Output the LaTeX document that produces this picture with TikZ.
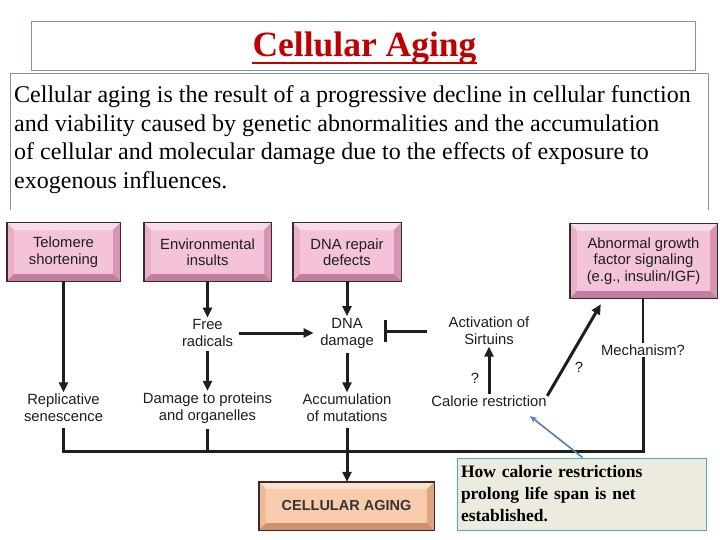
\documentclass[tikz,border=0pt]{standalone}
\usepackage{fontspec}
\setmainfont{Liberation Serif}
\newfontfamily\diagfont{Liberation Sans}
\usetikzlibrary{arrows.meta,calc}
\definecolor{titlered}{HTML}{C00000}
\definecolor{frameblue}{HTML}{7F93AA}
\definecolor{pinkface}{HTML}{F4C3D9}
\definecolor{pinktop}{HTML}{F9DCE9}
\definecolor{pinkleft}{HTML}{E8B0C9}
\definecolor{pinkright}{HTML}{D595B3}
\definecolor{pinkbottom}{HTML}{C27E9E}
\definecolor{peachface}{HTML}{F8CBAD}
\definecolor{peachtop}{HTML}{FCE1CE}
\definecolor{peachleft}{HTML}{EFBA98}
\definecolor{peachright}{HTML}{E0A47F}
\definecolor{peachbottom}{HTML}{D0906C}
\definecolor{boxedge}{HTML}{3A2A30}
\definecolor{notefill}{HTML}{EDEBE0}
\definecolor{noteborder}{HTML}{4BACC6}
\definecolor{calloutcol}{HTML}{4F7FB8}
\definecolor{ink}{HTML}{1E1E1E}
\newcommand{\bevelbox}[6]{%
  \fill[#2] (#1.north west) -- (#1.north east) -- ($(#1.north east)+(-#6,#6)$) -- ($(#1.north west)+(#6,#6)$) -- cycle;
  \fill[#3] (#1.north west) -- ($(#1.north west)+(#6,#6)$) -- ($(#1.south west)+(#6,-#6)$) -- (#1.south west) -- cycle;
  \fill[#4] (#1.north east) -- ($(#1.north east)+(-#6,#6)$) -- ($(#1.south east)+(-#6,-#6)$) -- (#1.south east) -- cycle;
  \fill[#5] (#1.south west) -- (#1.south east) -- ($(#1.south east)+(-#6,-#6)$) -- ($(#1.south west)+(#6,-#6)$) -- cycle;
  \draw[boxedge, line width=1.4pt] (#1.north west) rectangle (#1.south east);
}
\begin{document}
\begin{tikzpicture}[x=1pt,y=-1pt,
  diagtext/.style={align=center, text=ink, inner sep=1.5pt, font=\diagfont\fontsize{14.8}{17}\selectfont},
  pinkbox/.style={diagtext, fill=pinkface, inner sep=0pt, font=\diagfont\fontsize{14.8}{16.5}\selectfont},
  peachbox/.style={fill=peachface, inner sep=0pt, text=ink!90, font=\diagfont\bfseries\fontsize{14.5}{16}\selectfont},
  bodyline/.style={anchor=base west, inner sep=0pt, font=\fontsize{24}{28}\selectfont},
  arrowline/.style={draw=ink, line width=3pt, -{Triangle[length=10pt,width=9pt]}},
  plainline/.style={draw=ink, line width=3pt},
  notebox/.style={fill=notefill, draw=noteborder, line width=1pt, align=left, inner sep=4pt,
    font=\bfseries\fontsize{17.5}{22}\selectfont, text=black},
  callout/.style={draw=calloutcol, line width=1.6pt, -{Stealth[length=7pt,width=6pt]}}]
\useasboundingbox (0,0) rectangle (720,540);
\fill[white] (0,0) rectangle (720,540);

% title and text frames
\draw[frameblue, line width=0.8pt] (31,21) rectangle (695,70);
\draw[frameblue, line width=0.8pt] (10,210) -- (10,73) -- (708,73) -- (708,210);
\node[anchor=base, inner sep=0pt, text=titlered, font=\bfseries\fontsize{35.5}{40}\selectfont] (title) at (364.5,57) {Cellular Aging};
\draw[titlered, line width=2pt] ([yshift=-6pt]title.base west) -- ([yshift=-6pt]title.base east);

\node[bodyline] (l1) at (14,103) {Cellular aging is the result of a progressive decline in cellular function};
\node[bodyline] (l2) at (14,131.5) {and viability caused by genetic abnormalities and the accumulation};
\node[bodyline] (l3) at (14,160) {of cellular and molecular damage due to the effects of exposure to};
\node[bodyline] (l4) at (14,188.5) {exogenous influences.};

% boxes
\node[pinkbox, minimum width=113pt, minimum height=58pt] (telo) at (63.5,252) {Telomere\\shortening};
\node[pinkbox, minimum width=127pt, minimum height=58pt] (env) at (207.5,252) {Environmental\\insults};
\node[pinkbox, minimum width=108pt, minimum height=58pt] (dna) at (347,252) {DNA repair\\defects};
\node[pinkbox, minimum width=147pt, minimum height=74pt] (abn) at (643.5,261) {Abnormal growth\\factor signaling\\(e.g., insulin/IGF)};
\node[peachbox, minimum width=175pt, minimum height=48pt] (aging) at (346.5,506) {CELLULAR AGING};
\bevelbox{telo}{pinktop}{pinkleft}{pinkright}{pinkbottom}{7}
\bevelbox{env}{pinktop}{pinkleft}{pinkright}{pinkbottom}{7}
\bevelbox{dna}{pinktop}{pinkleft}{pinkright}{pinkbottom}{7}
\bevelbox{abn}{pinktop}{pinkleft}{pinkright}{pinkbottom}{7}
\bevelbox{aging}{peachtop}{peachleft}{peachright}{peachbottom}{7}

% text labels
\node[diagtext] (free) at (207.5,333) {Free\\radicals};
\node[diagtext] (dnadam) at (347,333) {DNA\\damage};
\node[diagtext] (rep) at (63.5,408) {Replicative\\senescence};
\node[diagtext] (dmg) at (207.5,408) {Damage to proteins\\and organelles};
\node[diagtext] (acc) at (347,408) {Accumulation\\of mutations};
\node[diagtext] (sirt) at (489,331) {Activation of\\Sirtuins};
\node[diagtext] (cal) at (489,401) {Calorie restriction};
\node[diagtext] (mech) at (643,350) {Mechanism?};
\node[diagtext] (q1) at (475,378) {?};
\node[diagtext] (q2) at (579,367) {?};

% connectors
\draw[arrowline] (telo.south) -- (rep.north);
\draw[arrowline] (env.south) -- (free.north);
\draw[arrowline, shorten <=3pt] (free.south) -- (dmg.north);
\draw[arrowline] (dna.south) -- (dnadam.north);
\draw[arrowline, shorten <=3pt] (dnadam.south) -- (acc.north);
\draw[arrowline, shorten <=4pt, shorten >=5pt] (free.east) -- (dnadam.west);
\draw[plainline, -{Bar[width=22pt,line width=2.8pt]}, shorten <=20pt, shorten >=9pt] (sirt.west) -- (sirt.west -| dnadam.east);
\draw[arrowline] (cal.north) -- (sirt.south);
\draw[arrowline] ([xshift=-1pt,yshift=-2pt]cal.north east) -- ([xshift=31pt,yshift=-6pt]abn.south west);

\coordinate (bl) at (63.5,451);
\coordinate (br) at (643,451);
\draw[line width=2.2pt, draw=ink] (abn.south -| mech.north) -- (mech.north);
\draw[plainline, line join=miter, shorten <=4pt] (rep.south) -- (bl) -- (br) -- (mech.south);
\draw[plainline, shorten <=4pt] (dmg.south) -- (dmg.south |- bl);
\draw[arrowline, shorten <=4pt] (acc.south) -- (acc.south |- aging.north);

% note
\node[notebox, minimum width=249pt, minimum height=72pt, text width=241pt] (note) at (581.5,494)
  {How calorie restrictions\\prolong life span is net\\established.};
\draw[callout] ([xshift=126pt]note.north west) -- ([xshift=41pt,yshift=-8pt]cal.south);
\end{tikzpicture}
\end{document}
